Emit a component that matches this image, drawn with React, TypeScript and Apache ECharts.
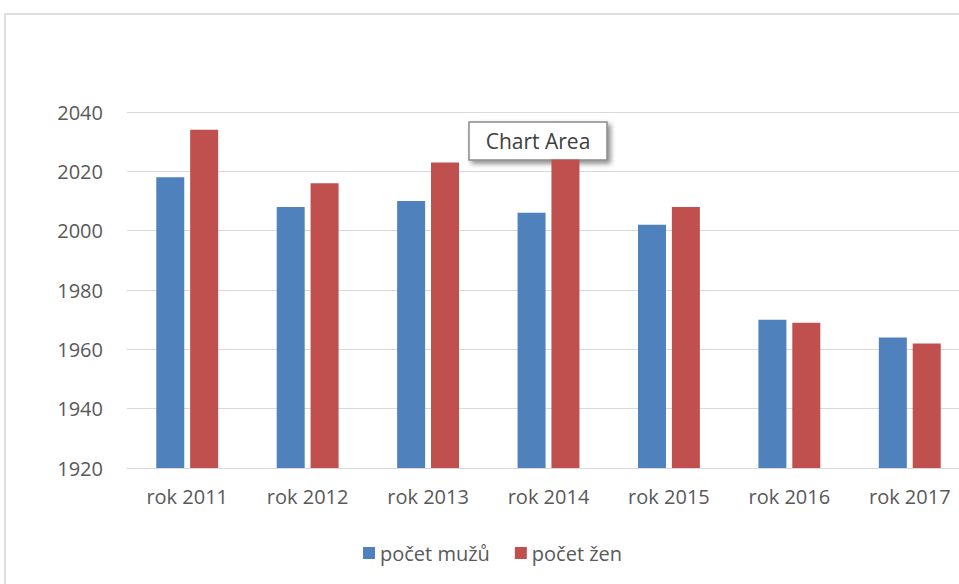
import React, { useEffect, useRef } from "react";
import * as echarts from "echarts";

const categories = ["rok 2011", "rok 2012", "rok 2013", "rok 2014", "rok 2015", "rok 2016", "rok 2017"];
const seriesNames = ["počet mužů", "počet žen"];
const men = [2018, 2008, 2010, 2006, 2002, 1970, 1964];
const women = [2034, 2016, 2023, 2024, 2008, 1969, 1962];
const yMin = 1920;
const yMax = 2040;
const yInterval = 20;

const FONT = "'Open Sans', 'Noto Sans', sans-serif";

export default function App() {
  const ref = useRef<HTMLDivElement>(null);
  useEffect(() => {
    if (!ref.current) return;
    const chart = echarts.init(ref.current, null, { renderer: "svg" });
    chart.setOption({
      animation: false,
      backgroundColor: "#ffffff",
      textStyle: { fontFamily: FONT },
      grid: { left: 127, right: 30, top: 112, bottom: 116, containLabel: false },
      legend: {
        data: seriesNames,
        left: 358,
        top: 538,
        icon: "rect",
        itemWidth: 12,
        itemHeight: 12,
        itemGap: 25,
        textStyle: { color: "#595959", fontSize: 20, fontFamily: FONT },
      },
      xAxis: {
        type: "category",
        data: categories,
        axisLine: { show: true, lineStyle: { color: "#d9d9d9", width: 1 } },
        axisTick: { show: false },
        axisLabel: { color: "#595959", fontSize: 20, fontFamily: FONT, margin: 18 },
      },
      yAxis: {
        type: "value",
        min: yMin,
        max: yMax,
        interval: yInterval,
        axisLine: { show: false },
        axisTick: { show: false },
        splitLine: { lineStyle: { color: "#d9d9d9", width: 1 } },
        axisLabel: {
          color: "#595959",
          fontSize: 20,
          fontFamily: FONT,
          margin: 24,
          formatter: (v: number) => String(v),
        },
      },
      series: [
        {
          name: seriesNames[0],
          type: "bar",
          data: men,
          barWidth: 28,
          barGap: "21%",
          itemStyle: { color: "#4F81BD" },
        },
        {
          name: seriesNames[1],
          type: "bar",
          data: women,
          barWidth: 28,
          barGap: "21%",
          itemStyle: { color: "#C0504D" },
        },
      ],
      graphic: [
        {
          type: "rect",
          z: 0,
          silent: true,
          shape: { x: 5, y: 14, width: 1100, height: 700 },
          style: { fill: "none", stroke: "#d4d4d4", lineWidth: 1.5 },
        },
        {
          type: "group",
          z: 100,
          children: [
            {
              type: "rect",
              shape: { x: 469, y: 122, width: 138, height: 38 },
              style: {
                fill: "#ffffff",
                stroke: "#8a8a8a",
                lineWidth: 1.5,
                shadowBlur: 5,
                shadowOffsetX: 3,
                shadowOffsetY: 3,
                shadowColor: "rgba(0,0,0,0.45)",
              },
            },
            {
              type: "text",
              x: 538,
              y: 141,
              style: {
                text: "Chart Area",
                font: `21px ${FONT}`,
                fill: "#404040",
                align: "center",
                verticalAlign: "middle",
              },
            },
          ],
        },
      ],
    });
    return () => chart.dispose();
  }, []);
  return (
    <div
      style={{
        position: "absolute",
        left: 0,
        top: 0,
        width: 959,
        height: 584,
        overflow: "hidden",
      }}
    >
      <div ref={ref} style={{ width: 1000, height: 584 }} />
    </div>
  );
}
